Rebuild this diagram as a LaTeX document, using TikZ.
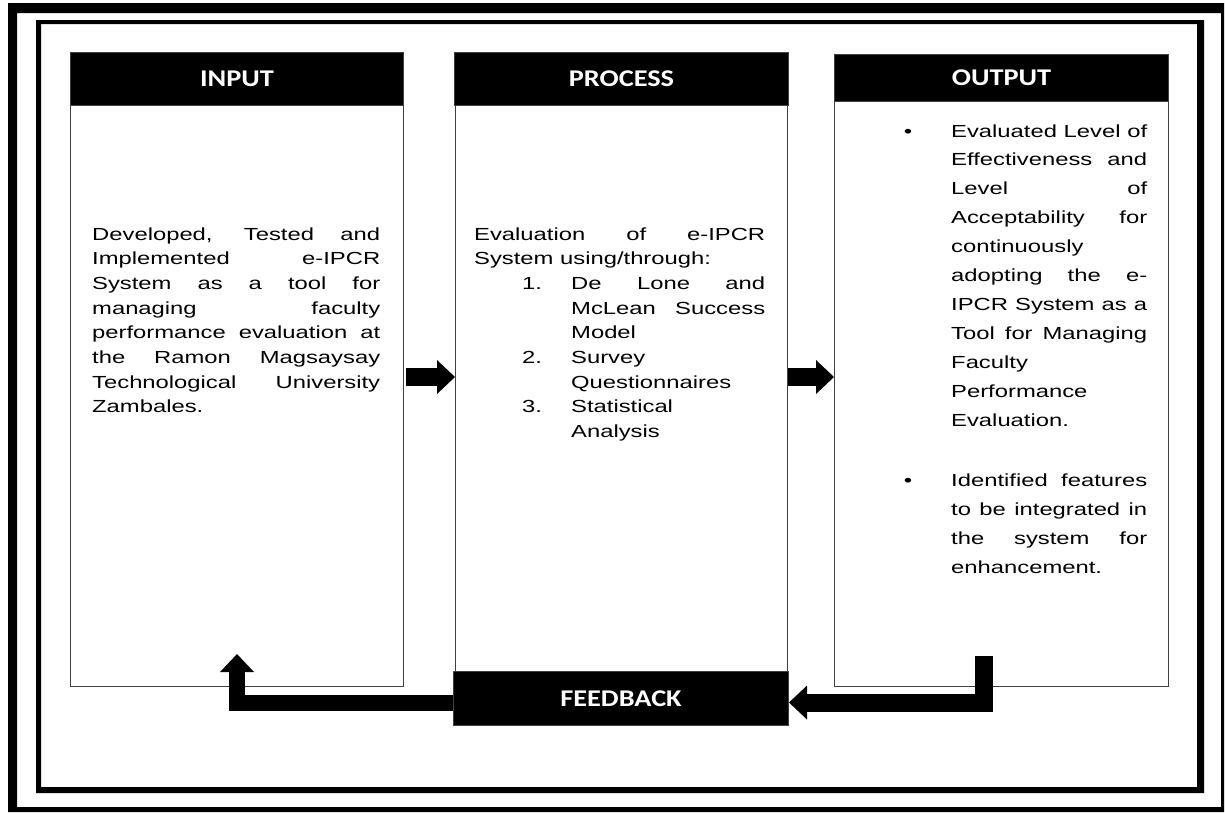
\documentclass[tikz,border=0pt]{standalone}
\usepackage{fontspec}
\setmainfont{Liberation Sans}
\newfontfamily\bodyfont{Liberation Sans}[FakeStretch=1.36]
\newfontfamily\headfont{Carlito}[FakeStretch=1.18]
\usetikzlibrary{arrows.meta}
\newcommand{\txtsetup}{\bodyfont\tolerance=10000\hbadness=10000\hyphenpenalty=10000\exhyphenpenalty=10000\parindent=0pt}
\begin{document}
\begin{tikzpicture}[x=1pt,y=-1pt,
  bodybox/.style={draw=black!75, line width=1.3pt, fill=white, anchor=north west, inner sep=0pt},
  headbox/.style={fill=black, draw=black!75, line width=1pt, anchor=north west, inner sep=0pt, text=white, font={\fontsize{24}{26}\headfont\bfseries}},
  blockarrow/.style={line width=18pt, -{Triangle[width=34pt 0 0, length=18pt 0 0, line width=0pt]}},
  txt/.style={anchor=base west, inner sep=0pt}]
\useasboundingbox (0,0) rectangle (1225,812);
% frames
\fill[even odd rule] (8,3) rectangle (1224,812) (17,13) rectangle (1221,807);
\fill[even odd rule] (36,20) rectangle (1204,793) (41,24) rectangle (1197,787);
% bodies
\node[bodybox, minimum width=333pt, minimum height=581pt] (inbody) at (70,105) {};
\node[bodybox, minimum width=332pt, minimum height=566pt] (procbody) at (455,105) {};
\node[bodybox, minimum width=334pt, minimum height=585pt] (outbody) at (834,101) {};
% headers
\node[headbox, minimum width=333pt, minimum height=53pt] (inhead) at (70,52) {INPUT};
\node[headbox, minimum width=334pt, minimum height=53pt] (prochead) at (454,52) {PROCESS};
\node[headbox, minimum width=334pt, minimum height=47pt] (outhead) at (834,54) {OUTPUT};
\node[headbox, minimum width=335pt, minimum height=54pt] (fb) at (453,671) {FEEDBACK};
% texts
\node[txt] (intext) at (92,240) {\parbox[t]{288pt}{\txtsetup\fontsize{17.5}{24.7}\selectfont
Developed, Tested and\linebreak Implemented e-IPCR\linebreak System as a tool for\linebreak managing faculty\linebreak performance evaluation at\linebreak the Ramon Magsaysay\linebreak Technological University\linebreak Zambales.\par}};
\node[txt] (proctext) at (474,240) {\parbox[t]{291pt}{\txtsetup\fontsize{17.5}{24.7}\selectfont
Evaluation of e-IPCR\linebreak System using/through:\par
\leftskip=97pt
\noindent\llap{\makebox[49pt][l]{1.}}De Lone and\linebreak McLean Success\linebreak Model\par
\noindent\llap{\makebox[49pt][l]{2.}}Survey\linebreak Questionnaires\par
\noindent\llap{\makebox[49pt][l]{3.}}Statistical\linebreak Analysis\par}};
\node[txt] (outtext) at (951,137) {\parbox[t]{196pt}{\txtsetup\fontsize{17.5}{28.9}\selectfont
\noindent\llap{\textbullet\hspace{39pt}}Evaluated Level of\linebreak Effectiveness and\linebreak Level of\linebreak Acceptability for\linebreak continuously\linebreak adopting the e-\linebreak IPCR System as a\linebreak Tool for Managing\linebreak Faculty\linebreak Performance\linebreak Evaluation.\par
\vspace{32pt}
\noindent\llap{\textbullet\hspace{39pt}}Identified features\linebreak to be integrated in\linebreak the system for\linebreak enhancement.\par}};
% arrows
\coordinate (a1s) at (406,377);
\draw[blockarrow] (a1s) -- (a1s -| procbody.west);
\draw[blockarrow] (a1s -| procbody.east) -- (a1s -| outbody.west);
\coordinate (fbl) at (237,654);
\draw[blockarrow, line width=16pt] ([yshift=-4pt]fb.west) -| (fbl);
\coordinate (fbr) at (984,656);
\draw[blockarrow] (fbr) |- ([yshift=-4pt]fb.east);
\end{tikzpicture}
\end{document}
